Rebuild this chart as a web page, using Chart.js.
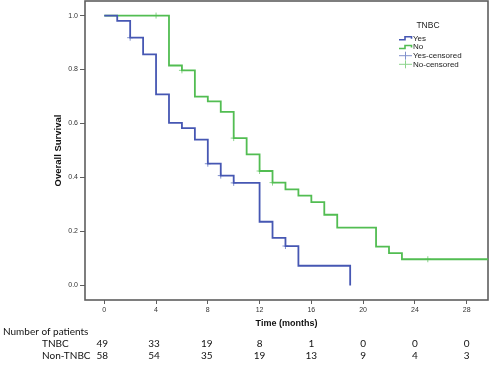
<!DOCTYPE html>
<html><head><meta charset="utf-8">
<script src="https://cdn.jsdelivr.net/npm/chart.js@4/dist/chart.umd.min.js"></script>
<style>html,body{margin:0;padding:0;background:#fff;}#wrap{width:489px;height:365px;position:relative;}</style>
</head><body><div id="wrap"><canvas id="c" width="489" height="365"></canvas></div>
<script>
// ---- data ----
const tnbcTimes = [0, 1, 2, 3, 4, 5, 6, 7, 8, 9, 10, 12, 13, 14, 15, 19];
const tnbcSurv  = [1.0, 0.98, 0.918, 0.856, 0.708, 0.602, 0.583, 0.54, 0.451, 0.407, 0.38, 0.236, 0.176, 0.146, 0.073, 0.0];
const tnbcCensTimes = [2, 8, 9, 10, 14];
const tnbcCensSurv  = [0.918, 0.451, 0.407, 0.38, 0.146];

const nonTimes = [0, 5, 6, 7, 8, 9, 10, 11, 12, 13, 14, 15, 16, 17, 18, 21, 22, 23, 30];
const nonSurv  = [1.0, 0.815, 0.797, 0.70, 0.682, 0.643, 0.546, 0.486, 0.424, 0.381, 0.356, 0.333, 0.309, 0.262, 0.214, 0.144, 0.12, 0.097, 0.097];
const nonCensTimes = [4, 6, 10, 12, 13, 25];
const nonCensSurv  = [1.0, 0.797, 0.546, 0.424, 0.381, 0.097];

const xTicks = [0, 4, 8, 12, 16, 20, 24, 28];
const yTicks = [0.0, 0.2, 0.4, 0.6, 0.8, 1.0];

const riskTimes = [0, 4, 8, 12, 16, 20, 24, 28];
const riskTNBC = [49, 33, 19, 8, 1, 0, 0, 0];
const riskNonTNBC = [58, 54, 35, 19, 13, 9, 4, 3];

const legendTitle = 'TNBC';
const legendLabels = ['Yes', 'No', 'Yes-censored', 'No-censored'];

// ---- styles ----
const BLUE = '#4657b3';
const GREEN = '#52bd52';
const BLUE_C = '#8090cc';
const GREEN_C = '#8cd48c';
const FRAME = '#5e5e5e';
const riskColOffset = [-2, -2, -1, 0, 0, 0, 0, 0];

const pts = (xs, ys) => xs.map((x, i) => ({x: x, y: ys[i]}));

const noScalePadding = {
  id: 'noScalePadding',
  beforeLayout(chart) {
    Object.values(chart.scales).forEach(s => {
      s.getPadding = () => ({left: 0, top: 0, right: 0, bottom: 0});
    });
  }
};

const overlay = {
  id: 'overlay',
  beforeDatasetsDraw(chart) {
    const {ctx, chartArea: a} = chart;
    ctx.save();
    ctx.strokeStyle = FRAME;
    ctx.lineWidth = 1.6;
    ctx.strokeRect(a.left, a.top, a.right - a.left, a.bottom - a.top);
    ctx.restore();
  },
  afterDraw(chart) {
    const {ctx} = chart;
    const xs = chart.scales.x;
    ctx.save();
    // legend
    ctx.fillStyle = '#222';
    ctx.font = '8.5px "Liberation Sans", Arial, sans-serif';
    ctx.textAlign = 'center';
    ctx.textBaseline = 'middle';
    ctx.fillText(legendTitle, 428, 25.5);
    ctx.font = '8px "Liberation Sans", Arial, sans-serif';
    ctx.textAlign = 'left';
    const rows = [38.3, 47, 55.7, 64.3];
    const cols = [BLUE, GREEN, BLUE_C, GREEN_C];
    rows.forEach((y, i) => {
      ctx.strokeStyle = cols[i];
      ctx.lineWidth = i < 2 ? 1.6 : 1;
      ctx.beginPath();
      if (i < 2) {
        ctx.moveTo(399, y + 1.5); ctx.lineTo(405, y + 1.5); ctx.lineTo(405, y - 1.5);
        ctx.lineTo(411.5, y - 1.5); ctx.lineTo(411.5, y + 0.5);
      } else {
        ctx.moveTo(399, y); ctx.lineTo(412, y);
        ctx.moveTo(405.5, y - 4); ctx.lineTo(405.5, y + 4);
      }
      ctx.stroke();
      ctx.fillStyle = '#222';
      ctx.fillText(legendLabels[i], 413, y);
    });
    // risk table
    ctx.fillStyle = '#111';
    ctx.font = '10px Lato, "Open Sans", sans-serif';
    ctx.textBaseline = 'middle';
    ctx.textAlign = 'left';
    ctx.fillText('Number of patients', 3, 332);
    ctx.fillText('TNBC', 42, 344);
    ctx.fillText('Non-TNBC', 42, 356);
    ctx.textAlign = 'center';
    riskTimes.forEach((t, i) => {
      const px = xs.getPixelForValue(t) + riskColOffset[i];
      ctx.fillText(String(riskTNBC[i]), px, 344);
      ctx.fillText(String(riskNonTNBC[i]), px, 356);
    });
    ctx.restore();
  }
};

new Chart(document.getElementById('c'), {
  type: 'line',
  data: {
    datasets: [
      {label: 'Yes', data: pts(tnbcTimes, tnbcSurv), borderColor: BLUE, borderWidth: 1.8, stepped: 'before', pointRadius: 0, fill: false},
      {label: 'No', data: pts(nonTimes, nonSurv), borderColor: GREEN, borderWidth: 1.8, stepped: 'before', pointRadius: 0, fill: false},
      {label: 'Yes-censored', data: pts(tnbcCensTimes, tnbcCensSurv), showLine: false, pointStyle: 'cross', pointRadius: 3, borderColor: BLUE_C, pointBorderWidth: 1, backgroundColor: BLUE_C},
      {label: 'No-censored', data: pts(nonCensTimes, nonCensSurv), showLine: false, pointStyle: 'cross', pointRadius: 3, borderColor: GREEN_C, pointBorderWidth: 1, backgroundColor: GREEN_C}
    ]
  },
  options: {
    responsive: false,
    animation: false,
    devicePixelRatio: 1,
    layout: {autoPadding: false, padding: {left: 52, right: 1, top: 1, bottom: 36}},
    plugins: {legend: {display: false}, tooltip: {enabled: false}},
    scales: {
      x: {
        type: 'linear', min: -1.49, max: 29.65,
        afterBuildTicks: s => { s.ticks = xTicks.map(v => ({value: v})); },
        afterFit: s => { s.height = 29; },
        grid: {drawOnChartArea: false, drawTicks: true, tickLength: 4, color: FRAME},
        border: {display: false},
        ticks: {font: {size: 7, family: '"Liberation Sans", Arial'}, color: '#333', padding: 2, maxRotation: 0},
        title: {display: true, text: 'Time (months)', font: {size: 9, weight: 'bold', family: '"Liberation Sans", Arial'}, color: '#111', padding: 0}
      },
      y: {
        type: 'linear', min: -0.054, max: 1.054,
        afterBuildTicks: s => { s.ticks = yTicks.map(v => ({value: v})); },
        afterFit: s => { s.width = 33; },
        grid: {drawOnChartArea: false, drawTicks: true, tickLength: 5, color: FRAME},
        border: {display: false},
        ticks: {font: {size: 7, family: '"Liberation Sans", Arial'}, color: '#333', padding: 2, callback: v => v.toFixed(1)},
        title: {display: true, text: 'Overall Survival', font: {size: 9.5, weight: 'bold', family: '"Liberation Sans", Arial'}, color: '#111', padding: {top: 1, bottom: 0}}
      }
    }
  },
  plugins: [noScalePadding, overlay]
});
</script>
</body></html>
